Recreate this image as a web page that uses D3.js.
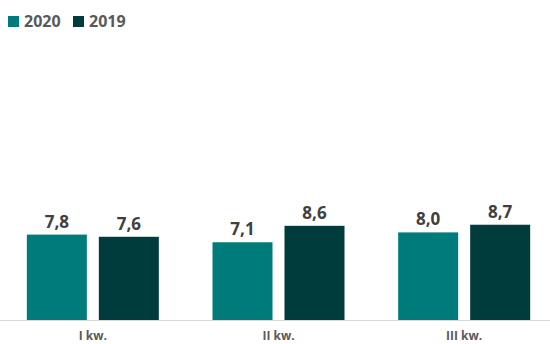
<!DOCTYPE html>
<html>
<head>
<meta charset="utf-8">
<script src="https://cdn.jsdelivr.net/npm/d3@7"></script>
<style>
  html, body { margin: 0; padding: 0; background: #ffffff; }
  svg { display: block; font-family: "Open Sans", "Liberation Sans", sans-serif; }
</style>
</head>
<body>
<svg id="chart" width="550" height="344"></svg>
<script>
// Quarterly values, 2020 vs 2019
const quarters = ["I kw.", "II kw.", "III kw."];
const seriesNames = ["2020", "2019"];
const values2020 = [7.8, 7.1, 8.0];
const values2019 = [7.6, 8.6, 8.7];
const seriesColors = ["#007B7B", "#003C3C"];

const svg = d3.select("#chart");
const baseY = 320;

const x0 = d3.scaleBand().domain(quarters).range([0, 557]).padding(0);
const groupWidth = 132;
const x1 = d3.scaleBand().domain(seriesNames)
  .range([(x0.bandwidth() - groupWidth) / 2, (x0.bandwidth() + groupWidth) / 2])
  .paddingInner(1 / 6).paddingOuter(0);
const y = d3.scaleLinear().domain([0, 25]).range([baseY, baseY - 25 * 10.95]);

const rows = quarters.map((q, i) => ({
  q,
  vals: [
    { s: "2020", v: values2020[i] },
    { s: "2019", v: values2019[i] }
  ]
}));
const color = d3.scaleOrdinal().domain(seriesNames).range(seriesColors);

// Baseline
svg.append("line")
  .attr("x1", 0).attr("x2", 550)
  .attr("y1", baseY + 0.5).attr("y2", baseY + 0.5)
  .attr("stroke", "#d9d9d9").attr("stroke-width", 1);

const groups = svg.selectAll("g.grp").data(rows).join("g")
  .attr("class", "grp")
  .attr("transform", d => `translate(${x0(d.q)},0)`);

groups.selectAll("rect").data(d => d.vals).join("rect")
  .attr("x", d => x1(d.s))
  .attr("width", x1.bandwidth())
  .attr("y", d => y(d.v))
  .attr("height", d => y(0) - y(d.v))
  .attr("fill", d => color(d.s));

const fmt = v => d3.format(".1f")(v).replace(".", ",");
groups.selectAll("text.val").data(d => d.vals).join("text")
  .attr("class", "val")
  .attr("x", d => x1(d.s) + x1.bandwidth() / 2)
  .attr("y", d => y(d.v) - 7)
  .attr("text-anchor", "middle")
  .attr("font-size", 17).attr("font-weight", 700)
  .attr("fill", "#404040")
  .text(d => fmt(d.v));

// Category axis
const xAxis = svg.append("g")
  .attr("transform", `translate(0,${baseY})`)
  .call(d3.axisBottom(x0).tickSize(0).tickPadding(0));
xAxis.select(".domain").remove();
xAxis.selectAll("text")
  .attr("dy", null)
  .attr("y", 20)
  .attr("font-family", "Open Sans, Liberation Sans, sans-serif")
  .attr("font-size", 12).attr("font-weight", 700)
  .attr("fill", "#595959");

// Legend
const legend = svg.append("g").attr("transform", "translate(8,0)");
const legendOffsets = [0, 65];
seriesNames.forEach((s, i) => {
  const g = legend.append("g").attr("transform", `translate(${legendOffsets[i]},0)`);
  g.append("rect").attr("x", 0).attr("y", 16).attr("width", 11).attr("height", 11)
    .attr("fill", color(s));
  g.append("text").attr("x", 16).attr("y", 27)
    .attr("font-size", 16).attr("font-weight", 700)
    .attr("fill", "#595959")
    .text(s);
});
</script>
</body>
</html>
